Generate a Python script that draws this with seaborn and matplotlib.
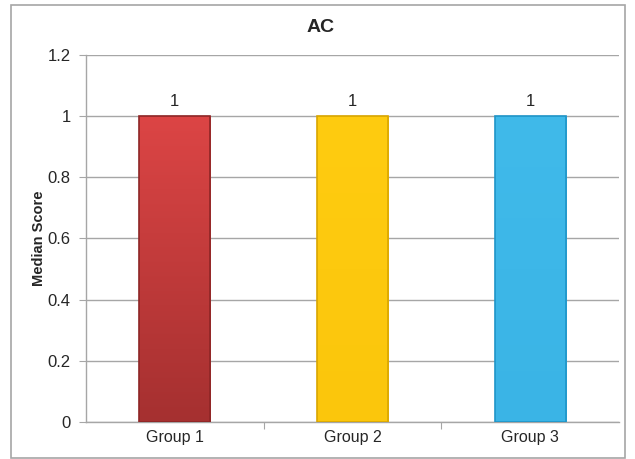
import matplotlib
matplotlib.use("Agg")
from matplotlib import pyplot as plt
from matplotlib.patches import Rectangle
from matplotlib.colors import LinearSegmentedColormap
import seaborn as sns
import pandas as pd
import numpy as np

groups = ["Group 1", "Group 2", "Group 3"]
median_scores = [1, 1, 1]
bar_colors = ["#D63F3F", "#FDC90E", "#3DB8E8"]
# top / bottom shades for the vertical gradient
top_colors = ["#DC4545", "#FFCC10", "#40BAEA"]
bottom_colors = ["#A53030", "#FBC60C", "#3AB4E6"]
edge_colors = ["#8E2626", "#D9A600", "#1F95C8"]

sns.set_style("white")
plt.rcParams["font.family"] = ["Liberation Sans", "DejaVu Sans"]

df = pd.DataFrame({"group": groups, "score": median_scores})

fig = plt.figure(figsize=(6.35, 4.59), dpi=100)
ax = fig.add_axes([86 / 635, 37 / 459, 533 / 635, 367 / 459])

sns.barplot(data=df, x="group", y="score", hue="group", palette=bar_colors,
            saturation=1, width=0.4, legend=False, ax=ax, zorder=3)

ax.set_ylim(0, 1.2)
ax.set_xlim(-0.5, 2.5)

# gradient fill clipped to each bar
grad = np.linspace(0, 1, 256).reshape(-1, 1)
for patch, top, bot, ec in zip(ax.patches, top_colors, bottom_colors,
                               edge_colors):
    x0, y0 = patch.get_x(), patch.get_y()
    w, h = patch.get_width(), patch.get_height()
    cmap = LinearSegmentedColormap.from_list("g", [bot, top])
    im = ax.imshow(grad, cmap=cmap, aspect="auto", origin="lower",
                   extent=(x0, x0 + w, y0, y0 + h), zorder=3.5)
    im.set_clip_path(patch)
    patch.set_edgecolor(ec)
    patch.set_linewidth(1.2)
    patch.set_zorder(4)
    patch.set_facecolor("none")

ax.set_xlim(-0.5, 2.5)
ax.set_ylim(0, 1.2)

for container in ax.containers:
    ax.bar_label(container, fmt="%g", padding=5, fontsize=12)

ax.set_yticks([0, 0.2, 0.4, 0.6, 0.8, 1, 1.2])
ax.set_yticklabels(["0", "0.2", "0.4", "0.6", "0.8", "1", "1.2"])
ax.yaxis.grid(True, color="#A6A6A6", linewidth=1.0, zorder=0)
ax.set_axisbelow(True)

# category boundary ticks on x, labels centred under bars
ax.set_xticks([0.5, 1.5], minor=False)
ax.set_xticklabels([])
ax.set_xticks([0, 1, 2], minor=True)
ax.set_xticklabels(groups, minor=True, fontsize=11.5)
ax.tick_params(axis="x", which="major", length=5, color="#A6A6A6",
               direction="out", bottom=True)
ax.tick_params(axis="x", which="minor", length=0, pad=6)
ax.tick_params(axis="y", length=5, color="#A6A6A6", direction="out",
               left=True, labelsize=12, pad=6)

for side in ["top", "right"]:
    ax.spines[side].set_visible(False)
for side in ["left", "bottom"]:
    ax.spines[side].set_color("#A6A6A6")
    ax.spines[side].set_linewidth(1.0)

ax.set_xlabel("")
ax.set_ylabel("Median Score", fontsize=10.5, fontweight="bold", labelpad=1)

fig.text(321 / 635, 1 - 28 / 459, "AC", ha="center", va="center",
         fontsize=14, fontweight="bold")

# chart area border
fig.patches.append(Rectangle((11 / 635, 1 / 459), 614 / 635, 453 / 459,
                             transform=fig.transFigure, fill=False,
                             edgecolor="#A6A6A6", linewidth=1.2))

fig.savefig("out.png", dpi=100)
